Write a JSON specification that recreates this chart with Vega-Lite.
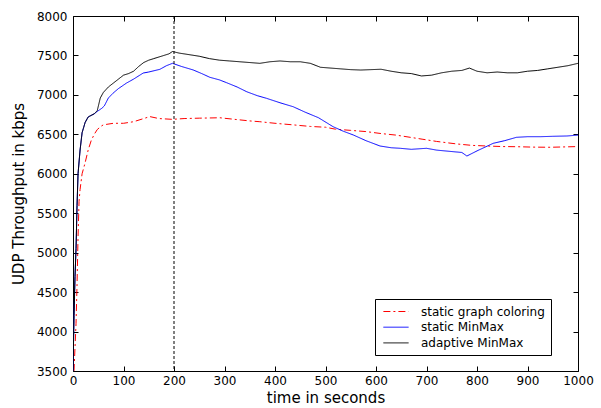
{
  "$schema": "https://vega.github.io/schema/vega-lite/v6.json",
  "width": 505,
  "height": 355,
  "autosize": "none",
  "padding": {"left": 73, "top": 16, "right": 23, "bottom": 37},
  "background": "white",
  "config": {
    "view": {"stroke": null},
    "font": "DejaVu Sans",
    "axis": {
      "labelFont": "DejaVu Sans",
      "labelFontSize": 12,
      "labelColor": "black",
      "titleFont": "DejaVu Sans",
      "titleFontSize": 15,
      "titleFontWeight": "normal",
      "titleColor": "black",
      "domainColor": "black",
      "tickColor": "black",
      "grid": false,
      "tickSize": -5,
      "format": "d"
    }
  },
  "datasets": {
    "series": [
      {"t": 2, "v": 3500, "s": "static graph coloring"},
      {"t": 4, "v": 3800, "s": "static graph coloring"},
      {"t": 6, "v": 4100, "s": "static graph coloring"},
      {"t": 8, "v": 4600, "s": "static graph coloring"},
      {"t": 10, "v": 5200, "s": "static graph coloring"},
      {"t": 12, "v": 5650, "s": "static graph coloring"},
      {"t": 14, "v": 5800, "s": "static graph coloring"},
      {"t": 18, "v": 6000, "s": "static graph coloring"},
      {"t": 24, "v": 6140, "s": "static graph coloring"},
      {"t": 30, "v": 6300, "s": "static graph coloring"},
      {"t": 36, "v": 6420, "s": "static graph coloring"},
      {"t": 42, "v": 6500, "s": "static graph coloring"},
      {"t": 48, "v": 6560, "s": "static graph coloring"},
      {"t": 55, "v": 6600, "s": "static graph coloring"},
      {"t": 60, "v": 6620, "s": "static graph coloring"},
      {"t": 80, "v": 6640, "s": "static graph coloring"},
      {"t": 100, "v": 6640, "s": "static graph coloring"},
      {"t": 120, "v": 6660, "s": "static graph coloring"},
      {"t": 140, "v": 6700, "s": "static graph coloring"},
      {"t": 152, "v": 6725, "s": "static graph coloring"},
      {"t": 170, "v": 6700, "s": "static graph coloring"},
      {"t": 197, "v": 6690, "s": "static graph coloring"},
      {"t": 220, "v": 6700, "s": "static graph coloring"},
      {"t": 250, "v": 6705, "s": "static graph coloring"},
      {"t": 291, "v": 6710, "s": "static graph coloring"},
      {"t": 320, "v": 6690, "s": "static graph coloring"},
      {"t": 350, "v": 6670, "s": "static graph coloring"},
      {"t": 370, "v": 6660, "s": "static graph coloring"},
      {"t": 400, "v": 6640, "s": "static graph coloring"},
      {"t": 436, "v": 6620, "s": "static graph coloring"},
      {"t": 470, "v": 6600, "s": "static graph coloring"},
      {"t": 500, "v": 6590, "s": "static graph coloring"},
      {"t": 520, "v": 6565, "s": "static graph coloring"},
      {"t": 550, "v": 6550, "s": "static graph coloring"},
      {"t": 580, "v": 6535, "s": "static graph coloring"},
      {"t": 610, "v": 6510, "s": "static graph coloring"},
      {"t": 640, "v": 6490, "s": "static graph coloring"},
      {"t": 670, "v": 6460, "s": "static graph coloring"},
      {"t": 693, "v": 6437, "s": "static graph coloring"},
      {"t": 720, "v": 6410, "s": "static graph coloring"},
      {"t": 760, "v": 6378, "s": "static graph coloring"},
      {"t": 790, "v": 6360, "s": "static graph coloring"},
      {"t": 820, "v": 6352, "s": "static graph coloring"},
      {"t": 850, "v": 6345, "s": "static graph coloring"},
      {"t": 880, "v": 6343, "s": "static graph coloring"},
      {"t": 910, "v": 6338, "s": "static graph coloring"},
      {"t": 945, "v": 6336, "s": "static graph coloring"},
      {"t": 970, "v": 6340, "s": "static graph coloring"},
      {"t": 1000, "v": 6345, "s": "static graph coloring"},

      {"t": 0, "v": 3500, "s": "static MinMax"},
      {"t": 2, "v": 4200, "s": "static MinMax"},
      {"t": 4, "v": 4700, "s": "static MinMax"},
      {"t": 6, "v": 5050, "s": "static MinMax"},
      {"t": 8, "v": 5600, "s": "static MinMax"},
      {"t": 10, "v": 6000, "s": "static MinMax"},
      {"t": 14, "v": 6300, "s": "static MinMax"},
      {"t": 18, "v": 6520, "s": "static MinMax"},
      {"t": 24, "v": 6650, "s": "static MinMax"},
      {"t": 30, "v": 6720, "s": "static MinMax"},
      {"t": 36, "v": 6740, "s": "static MinMax"},
      {"t": 42, "v": 6760, "s": "static MinMax"},
      {"t": 48, "v": 6790, "s": "static MinMax"},
      {"t": 57, "v": 6830, "s": "static MinMax"},
      {"t": 62, "v": 6860, "s": "static MinMax"},
      {"t": 70, "v": 6960, "s": "static MinMax"},
      {"t": 79, "v": 7020, "s": "static MinMax"},
      {"t": 90, "v": 7080, "s": "static MinMax"},
      {"t": 106, "v": 7150, "s": "static MinMax"},
      {"t": 120, "v": 7200, "s": "static MinMax"},
      {"t": 139, "v": 7277, "s": "static MinMax"},
      {"t": 150, "v": 7290, "s": "static MinMax"},
      {"t": 172, "v": 7324, "s": "static MinMax"},
      {"t": 185, "v": 7370, "s": "static MinMax"},
      {"t": 197, "v": 7400, "s": "static MinMax"},
      {"t": 215, "v": 7360, "s": "static MinMax"},
      {"t": 238, "v": 7316, "s": "static MinMax"},
      {"t": 255, "v": 7270, "s": "static MinMax"},
      {"t": 271, "v": 7223, "s": "static MinMax"},
      {"t": 290, "v": 7190, "s": "static MinMax"},
      {"t": 304, "v": 7155, "s": "static MinMax"},
      {"t": 325, "v": 7100, "s": "static MinMax"},
      {"t": 344, "v": 7040, "s": "static MinMax"},
      {"t": 365, "v": 6990, "s": "static MinMax"},
      {"t": 383, "v": 6957, "s": "static MinMax"},
      {"t": 410, "v": 6900, "s": "static MinMax"},
      {"t": 436, "v": 6850, "s": "static MinMax"},
      {"t": 460, "v": 6780, "s": "static MinMax"},
      {"t": 486, "v": 6711, "s": "static MinMax"},
      {"t": 515, "v": 6597, "s": "static MinMax"},
      {"t": 535, "v": 6540, "s": "static MinMax"},
      {"t": 555, "v": 6492, "s": "static MinMax"},
      {"t": 580, "v": 6420, "s": "static MinMax"},
      {"t": 608, "v": 6352, "s": "static MinMax"},
      {"t": 630, "v": 6330, "s": "static MinMax"},
      {"t": 648, "v": 6323, "s": "static MinMax"},
      {"t": 670, "v": 6310, "s": "static MinMax"},
      {"t": 700, "v": 6323, "s": "static MinMax"},
      {"t": 720, "v": 6300, "s": "static MinMax"},
      {"t": 753, "v": 6280, "s": "static MinMax"},
      {"t": 770, "v": 6270, "s": "static MinMax"},
      {"t": 780, "v": 6225, "s": "static MinMax"},
      {"t": 800, "v": 6290, "s": "static MinMax"},
      {"t": 832, "v": 6386, "s": "static MinMax"},
      {"t": 855, "v": 6420, "s": "static MinMax"},
      {"t": 878, "v": 6462, "s": "static MinMax"},
      {"t": 900, "v": 6470, "s": "static MinMax"},
      {"t": 925, "v": 6470, "s": "static MinMax"},
      {"t": 950, "v": 6475, "s": "static MinMax"},
      {"t": 978, "v": 6479, "s": "static MinMax"},
      {"t": 1000, "v": 6490, "s": "static MinMax"},

      {"t": 0, "v": 3500, "s": "adaptive MinMax"},
      {"t": 2, "v": 4200, "s": "adaptive MinMax"},
      {"t": 4, "v": 4700, "s": "adaptive MinMax"},
      {"t": 6, "v": 5050, "s": "adaptive MinMax"},
      {"t": 8, "v": 5600, "s": "adaptive MinMax"},
      {"t": 10, "v": 6000, "s": "adaptive MinMax"},
      {"t": 14, "v": 6300, "s": "adaptive MinMax"},
      {"t": 18, "v": 6520, "s": "adaptive MinMax"},
      {"t": 24, "v": 6650, "s": "adaptive MinMax"},
      {"t": 30, "v": 6720, "s": "adaptive MinMax"},
      {"t": 36, "v": 6740, "s": "adaptive MinMax"},
      {"t": 42, "v": 6760, "s": "adaptive MinMax"},
      {"t": 48, "v": 6800, "s": "adaptive MinMax"},
      {"t": 54, "v": 6960, "s": "adaptive MinMax"},
      {"t": 60, "v": 7030, "s": "adaptive MinMax"},
      {"t": 70, "v": 7100, "s": "adaptive MinMax"},
      {"t": 80, "v": 7150, "s": "adaptive MinMax"},
      {"t": 90, "v": 7200, "s": "adaptive MinMax"},
      {"t": 100, "v": 7250, "s": "adaptive MinMax"},
      {"t": 110, "v": 7270, "s": "adaptive MinMax"},
      {"t": 120, "v": 7300, "s": "adaptive MinMax"},
      {"t": 130, "v": 7360, "s": "adaptive MinMax"},
      {"t": 140, "v": 7410, "s": "adaptive MinMax"},
      {"t": 150, "v": 7440, "s": "adaptive MinMax"},
      {"t": 160, "v": 7460, "s": "adaptive MinMax"},
      {"t": 170, "v": 7480, "s": "adaptive MinMax"},
      {"t": 180, "v": 7500, "s": "adaptive MinMax"},
      {"t": 190, "v": 7520, "s": "adaptive MinMax"},
      {"t": 197, "v": 7550, "s": "adaptive MinMax"},
      {"t": 210, "v": 7530, "s": "adaptive MinMax"},
      {"t": 230, "v": 7510, "s": "adaptive MinMax"},
      {"t": 250, "v": 7490, "s": "adaptive MinMax"},
      {"t": 270, "v": 7460, "s": "adaptive MinMax"},
      {"t": 290, "v": 7440, "s": "adaptive MinMax"},
      {"t": 310, "v": 7430, "s": "adaptive MinMax"},
      {"t": 330, "v": 7420, "s": "adaptive MinMax"},
      {"t": 350, "v": 7410, "s": "adaptive MinMax"},
      {"t": 370, "v": 7400, "s": "adaptive MinMax"},
      {"t": 390, "v": 7420, "s": "adaptive MinMax"},
      {"t": 410, "v": 7430, "s": "adaptive MinMax"},
      {"t": 430, "v": 7420, "s": "adaptive MinMax"},
      {"t": 450, "v": 7420, "s": "adaptive MinMax"},
      {"t": 470, "v": 7400, "s": "adaptive MinMax"},
      {"t": 490, "v": 7350, "s": "adaptive MinMax"},
      {"t": 510, "v": 7340, "s": "adaptive MinMax"},
      {"t": 530, "v": 7330, "s": "adaptive MinMax"},
      {"t": 550, "v": 7320, "s": "adaptive MinMax"},
      {"t": 570, "v": 7315, "s": "adaptive MinMax"},
      {"t": 590, "v": 7320, "s": "adaptive MinMax"},
      {"t": 610, "v": 7325, "s": "adaptive MinMax"},
      {"t": 630, "v": 7300, "s": "adaptive MinMax"},
      {"t": 650, "v": 7280, "s": "adaptive MinMax"},
      {"t": 670, "v": 7270, "s": "adaptive MinMax"},
      {"t": 690, "v": 7240, "s": "adaptive MinMax"},
      {"t": 710, "v": 7250, "s": "adaptive MinMax"},
      {"t": 730, "v": 7280, "s": "adaptive MinMax"},
      {"t": 750, "v": 7300, "s": "adaptive MinMax"},
      {"t": 770, "v": 7310, "s": "adaptive MinMax"},
      {"t": 785, "v": 7340, "s": "adaptive MinMax"},
      {"t": 800, "v": 7300, "s": "adaptive MinMax"},
      {"t": 820, "v": 7280, "s": "adaptive MinMax"},
      {"t": 840, "v": 7290, "s": "adaptive MinMax"},
      {"t": 860, "v": 7280, "s": "adaptive MinMax"},
      {"t": 880, "v": 7280, "s": "adaptive MinMax"},
      {"t": 900, "v": 7300, "s": "adaptive MinMax"},
      {"t": 920, "v": 7310, "s": "adaptive MinMax"},
      {"t": 940, "v": 7330, "s": "adaptive MinMax"},
      {"t": 960, "v": 7350, "s": "adaptive MinMax"},
      {"t": 980, "v": 7370, "s": "adaptive MinMax"},
      {"t": 1000, "v": 7400, "s": "adaptive MinMax"}
    ],
    "marker": [{"t": 200}],
    "corner": [{"t": 0, "v": 3500}]
  },
  "layer": [
    {
      "data": {"name": "series"},
      "mark": {"type": "line", "strokeWidth": 1, "clip": true, "interpolate": "linear"},
      "encoding": {
        "x": {
          "field": "t", "type": "quantitative",
          "scale": {"domain": [0, 1000], "nice": false, "zero": false},
          "axis": {"orient": "bottom", "values": [0, 100, 200, 300, 400, 500, 600, 700, 800, 900, 1000], "title": "time in seconds", "labelPadding": 9, "titlePadding": 4, "labelFlush": false}
        },
        "y": {
          "field": "v", "type": "quantitative",
          "scale": {"domain": [3500, 8000], "nice": false, "zero": false},
          "axis": {"orient": "left", "values": [3500, 4000, 4500, 5000, 5500, 6000, 6500, 7000, 7500, 8000], "title": "UDP Throughput in kbps", "labelPadding": 11, "titlePadding": 10}
        },
        "color": {
          "field": "s", "type": "nominal",
          "scale": {"domain": ["static graph coloring", "static MinMax", "adaptive MinMax"], "range": ["#ff0000", "#0000ff", "#000000"]},
          "legend": {
            "title": null,
            "orient": "none",
            "legendX": 302,
            "legendY": 283,
            "strokeColor": "black",
            "fillColor": "white",
            "padding": 6,
            "labelFont": "DejaVu Sans",
            "labelFontSize": 12,
            "labelColor": "black",
            "symbolType": "M-2.1,0H2.1",
            "symbolSize": 144,
            "symbolStrokeWidth": 1,
            "symbolOffset": 8.5,
            "labelOffset": 18.5,
            "rowPadding": 2.7
          }
        },
        "strokeDash": {
          "field": "s", "type": "nominal",
          "scale": {"domain": ["static graph coloring", "static MinMax", "adaptive MinMax"], "range": [[7, 3, 2, 3], [1, 0], [1, 0]]},
          "legend": null
        }
      }
    },
    {
      "data": {"name": "marker"},
      "mark": {"type": "rule", "color": "black", "strokeWidth": 1, "strokeDash": [3, 2]},
      "encoding": {
        "x": {"field": "t", "type": "quantitative", "axis": null}
      }
    },
    {
      "data": {"name": "corner"},
      "mark": {"type": "point", "opacity": 0},
      "encoding": {
        "x": {
          "field": "t", "type": "quantitative",
          "axis": {"orient": "top", "values": [0, 100, 200, 300, 400, 500, 600, 700, 800, 900, 1000], "labels": false, "title": null}
        },
        "y": {
          "field": "v", "type": "quantitative",
          "axis": {"orient": "right", "values": [3500, 4000, 4500, 5000, 5500, 6000, 6500, 7000, 7500, 8000], "labels": false, "title": null}
        }
      }
    }
  ],
  "resolve": {"axis": {"x": "independent", "y": "independent"}}
}
